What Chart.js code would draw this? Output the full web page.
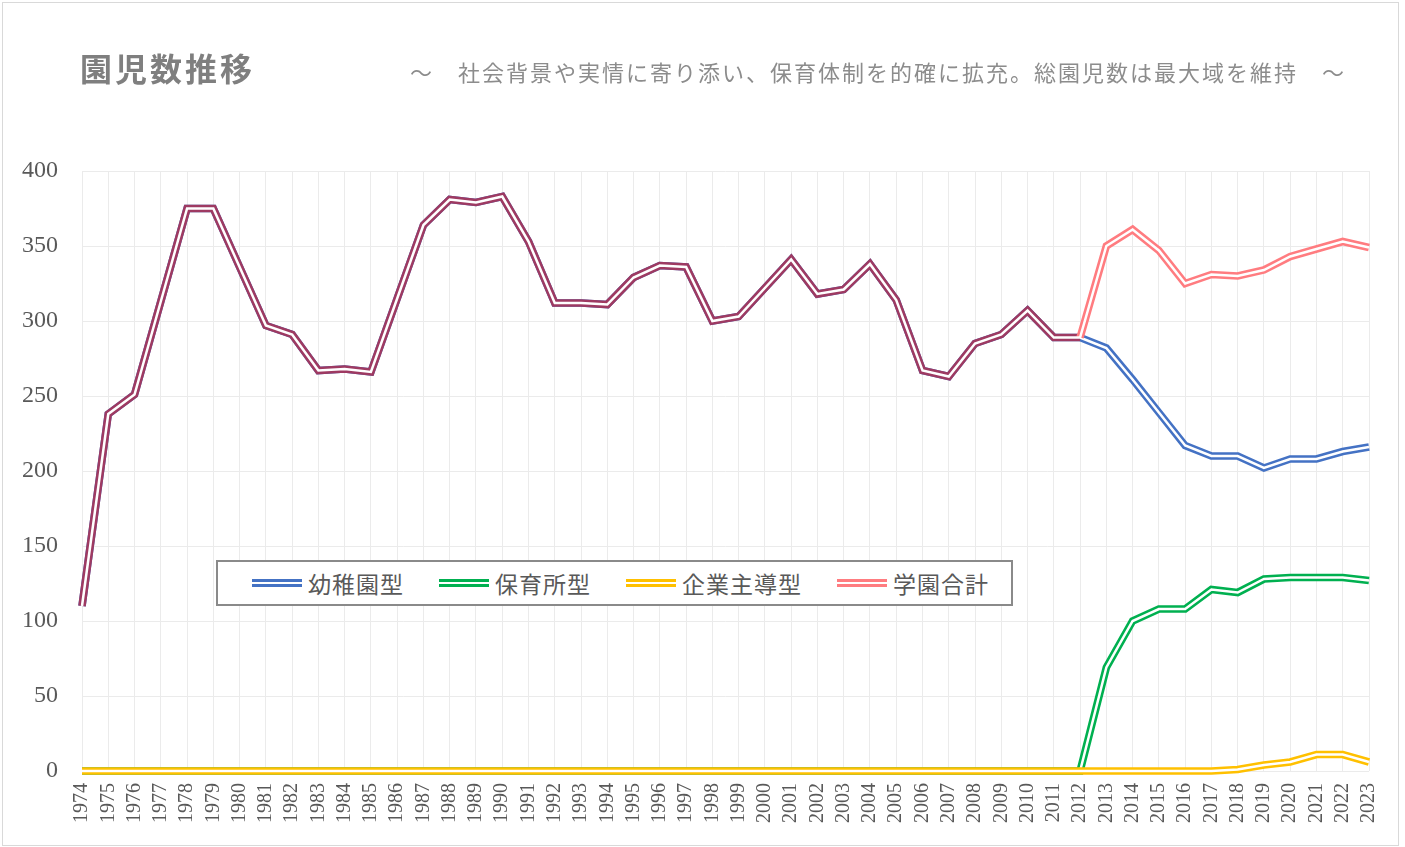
<!DOCTYPE html>
<html lang="ja">
<head>
  <meta charset="UTF-8">
  <title>園児数推移</title>
  <script src="https://cdn.jsdelivr.net/npm/chart.js@4.4.3/dist/chart.umd.min.js"></script>
  <style>
    body {
      margin: 0;
      background: #fff;
      font-family: "Noto Sans CJK JP", sans-serif;
    }
    .frame {
      position: absolute;
      left: 2px; top: 2px;
      width: 1395px; height: 842px;
      border: 1px solid #d9d9d9;
    }
    #chartBox {
      position: absolute;
      left: 0; top: 0;
      width: 1405px; height: 847px;
    }
    #title {
      position: absolute;
      left: 80px; top: 44px;
      font-size: 32px;
      font-weight: bold;
      letter-spacing: 3px;
      color: #7f7f7f;
      white-space: nowrap;
    }
    #subtitle {
      position: absolute;
      left: 410px; top: 55px;
      font-size: 22px;
      letter-spacing: 2px;
      color: #8c8c8c;
      white-space: nowrap;
    }
    #legend {
      position: absolute;
      left: 216px; top: 560px;
      width: 797px; height: 46px;
      border: 2px solid #8a8a8a;
      background: #fff;
      display: flex;
      align-items: center;
      padding-left: 34px;
      box-sizing: border-box;
      white-space: nowrap;
    }
    #legend .item {
      display: flex;
      flex-shrink: 0;
      align-items: center;
      margin-right: 35px;
      font-size: 23px;
      letter-spacing: 1px;
      color: #595959;
    }
    #legend .item:last-child { margin-right: 0; }
    #legend .icon {
      flex-shrink: 0;
      width: 50px;
      height: 2px;
      border-top: 3px solid;
      border-bottom: 3px solid;
      background: #fff;
      margin-right: 6px;
    }
  </style>
</head>
<body>
  <div class="frame"></div>
  <div id="chartBox"><canvas id="chart" width="1405" height="847"></canvas></div>
  <div id="title">園児数推移</div>
  <div id="subtitle">～　社会背景や実情に寄り添い、保育体制を的確に拡充。総園児数は最大域を維持　～</div>
  <div id="legend"></div>

  <script>
    // data
    const years = ['1974','1975','1976','1977','1978','1979','1980','1981','1982','1983',
                   '1984','1985','1986','1987','1988','1989','1990','1991','1992','1993',
                   '1994','1995','1996','1997','1998','1999','2000','2001','2002','2003',
                   '2004','2005','2006','2007','2008','2009','2010','2011','2012','2013',
                   '2014','2015','2016','2017','2018','2019','2020','2021','2022','2023'];

    const kinder = [110,238,251,313,375,375,336,297,291,267,
                    268,266,315,364,381,379,383,353,312,312,
                    311,329,337,336,300,303,322,341,318,321,
                    338,314,267,263,285,291,307,289,289,282,
                    261,239,217,210,210,202,208,208,213,216];

    const hoiku = [0,0,0,0,0,0,0,0,0,0,
                   0,0,0,0,0,0,0,0,0,0,
                   0,0,0,0,0,0,0,0,0,0,
                   0,0,0,0,0,0,0,0,0,69,
                   100,108,108,121,119,128,129,129,129,127];

    const kigyo = [0,0,0,0,0,0,0,0,0,0,
                   0,0,0,0,0,0,0,0,0,0,
                   0,0,0,0,0,0,0,0,0,0,
                   0,0,0,0,0,0,0,0,0,0,
                   0,0,0,0,1,4,6,11,11,6];

    const total = [110,238,251,313,375,375,336,297,291,267,
                   268,266,315,364,381,379,383,353,312,312,
                   311,329,337,336,300,303,322,341,318,321,
                   338,314,267,263,285,291,307,289,289,350,
                   361,347,325,331,330,334,343,348,353,349];

    const seriesNames = ['幼稚園型', '保育所型', '企業主導型', '学園合計'];
    const yTicks = [0, 50, 100, 150, 200, 250, 300, 350, 400];

    // styles
    const colors = ['#4472C4', '#00B050', '#FFC000', '#FF7C80'];
    const overlapColor = '#9E3A62';   // where 幼稚園型 and 学園合計 coincide
    const overlapEnd = years.indexOf('2012');
    const seriesData = [kinder, hoiku, kigyo, total];

    // each series is drawn twice (wide colour + thin white) to get a double line
    const datasets = [];
    seriesData.forEach((data, i) => {
      const base = {
        data: data,
        pointRadius: 0,
        pointHoverRadius: 0,
        tension: 0,
        fill: false,
        clip: false,
        borderJoinStyle: 'miter'
      };
      const outer = Object.assign({}, base, {
        label: seriesNames[i],
        borderColor: colors[i],
        borderWidth: 7.6,
        order: 8 - i * 2
      });
      if (i === 3) {
        outer.segment = {
          borderColor: ctx => ctx.p1DataIndex <= overlapEnd ? overlapColor : colors[3]
        };
      }
      const inner = Object.assign({}, base, {
        label: seriesNames[i] + '_inner',
        borderColor: '#ffffff',
        borderWidth: 2.5,
        order: 7 - i * 2
      });
      datasets.push(outer, inner);
    });

    const serif = '"Liberation Serif", "Times New Roman", serif';

    new Chart(document.getElementById('chart'), {
      type: 'line',
      data: { labels: years, datasets: datasets },
      options: {
        responsive: false,
        animation: false,
        layout: { padding: { left: 0, top: 171, right: 36, bottom: 0 } },
        plugins: {
          legend: { display: false },
          title: { display: false },
          tooltip: { enabled: false }
        },
        scales: {
          x: {
            offset: false,
            grid: { color: '#ebebeb', drawTicks: false },
            border: { display: false },
            ticks: {
              autoSkip: false,
              maxRotation: 90,
              minRotation: 90,
              padding: 12,
              color: '#595959',
              font: { family: serif, size: 20 }
            },
            afterFit: scale => { scale.height = 76; }
          },
          y: {
            min: 0,
            max: 400,
            afterBuildTicks: scale => { scale.ticks = yTicks.map(v => ({ value: v })); },
            grid: { color: '#ebebeb', drawTicks: false },
            border: { display: false },
            ticks: {
              padding: 24,
              color: '#595959',
              font: { family: serif, size: 24 }
            },
            afterFit: scale => { scale.width = 82; }
          }
        }
      }
    });

    // legend box inside the plot, built from the series names and colours
    const legend = document.getElementById('legend');
    seriesNames.forEach((name, i) => {
      const item = document.createElement('div');
      item.className = 'item';
      const icon = document.createElement('span');
      icon.className = 'icon';
      icon.style.borderColor = colors[i];
      const text = document.createElement('span');
      text.textContent = name;
      item.appendChild(icon);
      item.appendChild(text);
      legend.appendChild(item);
    });
  </script>
</body>
</html>
